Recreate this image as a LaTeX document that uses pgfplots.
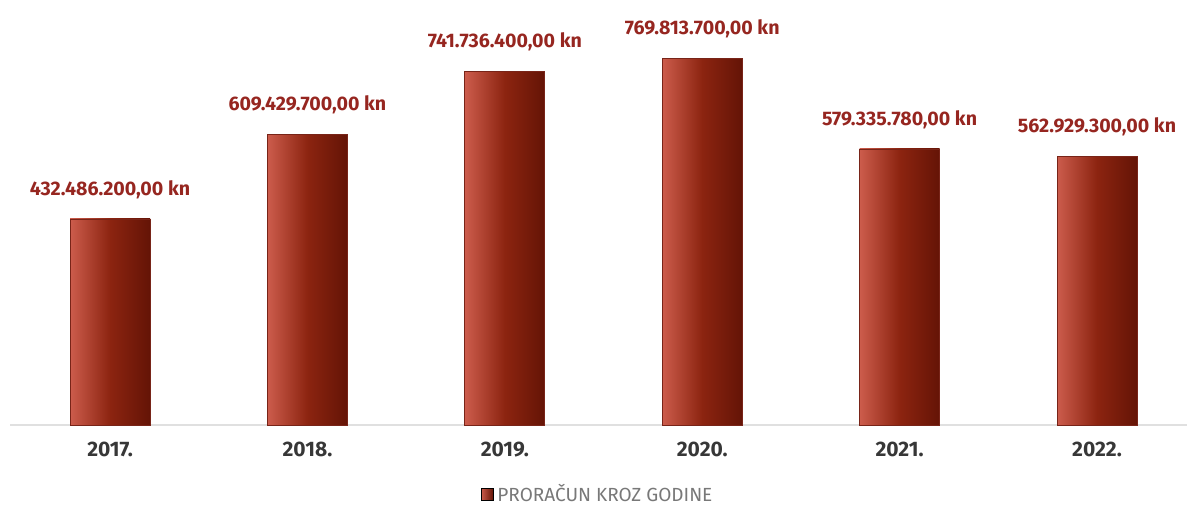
\documentclass[border=0pt]{standalone}
\usepackage{fontspec}
\setmainfont{Fira Sans}
\usepackage{pgfplots}
\usepackage{pgfplotstable}
\pgfplotsset{compat=1.18}
\definecolor{barlight}{RGB}{204,92,76}
\definecolor{barmid}{RGB}{140,36,16}
\definecolor{bardark}{RGB}{100,20,6}
\definecolor{barline}{RGB}{120,36,24}
\definecolor{lblred}{RGB}{150,38,32}
\definecolor{ticktxt}{RGB}{55,55,55}
\definecolor{legtxt}{RGB}{120,120,120}

% budget per year, in millions of kn
\pgfplotstableread{
x y label
0 432.4862 432.486.200,00
1 609.4297 609.429.700,00
2 741.7364 741.736.400,00
3 769.8137 769.813.700,00
4 579.33578 579.335.780,00
5 562.9293 562.929.300,00
}\proracun

\begin{document}
\begin{tikzpicture}
\begin{axis}[
    name=main,
    scale only axis,
    width=588.5pt,
    height=212.5pt,
    xmin=-0.507, xmax=5.456,
    ymin=0, ymax=892,
    axis x line=bottom,
    axis y line=none,
    x axis line style={draw=black!12, line width=0.8pt, -},
    xtick={0,...,5},
    xticklabels={2017.,2018.,2019.,2020.,2021.,2022.},
    major tick length=0pt,
    xticklabel style={font=\fontsize{10.5}{12}\selectfont\bfseries, text=ticktxt, yshift=-5pt},
    ytick=\empty,
    clip=false,
    legend style={at={(0.5,-34.5pt)}, anchor=center, draw=none, fill=none,
        font=\fontsize{9.5}{11}\selectfont, text=legtxt,
        /tikz/every even column/.append style={column sep=2pt}},
]
% one plot per bar so every bar gets its own shading
\pgfplotsinvokeforeach{0,...,5}{
\addplot[ybar, bar width=0.405, bar shift=0pt,
    left color=barlight, right color=bardark, middle color=barmid,
    draw=barline, line width=0.4pt,
    forget plot,
    x filter/.expression={x==#1 ? x : nan},
    point meta=explicit symbolic,
    nodes near coords={\pgfplotspointmeta\ kn},
    every node near coord/.append style={font=\fontsize{9.8}{11}\selectfont\bfseries,
        text=lblred, anchor=south, inner sep=0pt, yshift=10pt}]
    table[x=x, y=y, meta=label] {\proracun};
}
\addlegendimage{legend image code/.code={\fill[left color=barlight, right color=bardark] (0pt,-3pt) rectangle (6pt,3pt);}}
\addlegendentry{PRORAČUN KROZ GODINE}
\end{axis}
\pgfresetboundingbox
\path (main.south west) ++(-5pt,-39.5pt) coordinate (bl);
\path (main.north east) coordinate (tr);
\path[use as bounding box] (bl) rectangle (tr);
\end{tikzpicture}
\end{document}
